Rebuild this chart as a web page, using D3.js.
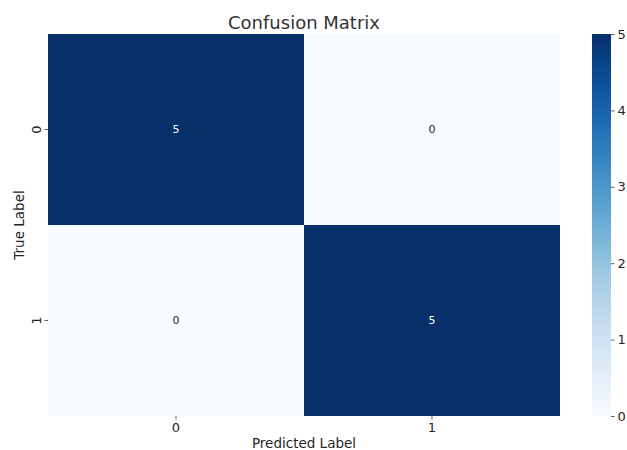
<!DOCTYPE html>
<html>
<head>
<meta charset="utf-8">
<script src="https://cdn.jsdelivr.net/npm/d3@7"></script>
<style>
  html, body { margin: 0; padding: 0; background: #fff; }
  svg { display: block; font-family: "DejaVu Sans", sans-serif; }
</style>
</head>
<body>
<svg id="chart" width="627" height="450"></svg>
<script>
// Confusion matrix counts: rows = true label, columns = predicted label
const trueLabels = ["0", "1"];
const predLabels = ["0", "1"];
const counts = [
  [5, 0],
  [0, 5]
];
const colorTicks = [0, 1, 2, 3, 4, 5];

const svg = d3.select("#chart");
const m = { left: 48, top: 34, right: 560, bottom: 416 };

const x = d3.scaleBand().domain(predLabels).range([m.left, m.right]);
const y = d3.scaleBand().domain(trueLabels).range([m.top, m.bottom]);
const vmax = d3.max(counts.flat());
const color = d3.scaleSequential(d3.interpolateBlues).domain([0, vmax]);

const cells = [];
counts.forEach((row, i) => row.forEach((v, j) => cells.push({ t: trueLabels[i], p: predLabels[j], v })));

svg.append("g").selectAll("rect").data(cells).join("rect")
  .attr("x", d => x(d.p))
  .attr("y", d => y(d.t))
  .attr("width", x.bandwidth())
  .attr("height", y.bandwidth())
  .attr("fill", d => color(d.v));

svg.append("g").selectAll("text").data(cells).join("text")
  .attr("x", d => x(d.p) + x.bandwidth() / 2)
  .attr("y", d => y(d.t) + y.bandwidth() / 2)
  .attr("text-anchor", "middle")
  .attr("dominant-baseline", "central")
  .attr("font-size", 11)
  .attr("fill", d => d.v > vmax / 2 ? "#ffffff" : "#262626")
  .text(d => d.v);

// Axes
const tickFont = 13;
const xAxis = svg.append("g").attr("transform", `translate(0,${m.bottom})`)
  .call(d3.axisBottom(x).tickSize(3.5).tickPadding(3.5));
const yAxis = svg.append("g").attr("transform", `translate(${m.left},0)`)
  .call(d3.axisLeft(y).tickSize(3.5).tickPadding(3.5));
[xAxis, yAxis].forEach(g => {
  g.select(".domain").remove();
  g.selectAll(".tick line").attr("stroke", "#333").attr("stroke-width", 0.8);
  g.selectAll(".tick text").attr("font-size", tickFont).attr("fill", "#262626")
    .attr("font-family", "DejaVu Sans, sans-serif");
});
yAxis.selectAll(".tick text")
  .attr("transform", "rotate(-90)")
  .attr("text-anchor", "middle")
  .attr("x", 0)
  .attr("y", -7)
  .attr("dy", 0)
  .attr("dominant-baseline", "auto");

// Axis titles
svg.append("text")
  .attr("x", (m.left + m.right) / 2).attr("y", 448)
  .attr("text-anchor", "middle").attr("font-size", 13.5).attr("fill", "#262626")
  .text("Predicted Label");
svg.append("text")
  .attr("transform", `translate(24,${(m.top + m.bottom) / 2}) rotate(-90)`)
  .attr("text-anchor", "middle").attr("font-size", 13.5).attr("fill", "#262626")
  .text("True Label");

// Title
svg.append("text")
  .attr("x", (m.left + m.right) / 2).attr("y", 29)
  .attr("text-anchor", "middle").attr("font-size", 18).attr("fill", "#333333")
  .text("Confusion Matrix");

// Colorbar
const cb = { x: 592, w: 19, top: 34, bottom: 416 };
const cbScale = d3.scaleLinear().domain([0, vmax]).range([cb.bottom, cb.top]);
const defs = svg.append("defs");
const grad = defs.append("linearGradient").attr("id", "cbGrad")
  .attr("x1", 0).attr("y1", 1).attr("x2", 0).attr("y2", 0);
d3.range(0, 1.0001, 0.05).forEach(t => {
  grad.append("stop").attr("offset", t).attr("stop-color", d3.interpolateBlues(t));
});
svg.append("rect")
  .attr("x", cb.x).attr("y", cb.top)
  .attr("width", cb.w).attr("height", cb.bottom - cb.top)
  .attr("fill", "url(#cbGrad)");
const cbAxis = svg.append("g").attr("transform", `translate(${cb.x + cb.w},0)`)
  .call(d3.axisRight(cbScale).tickValues(colorTicks).tickFormat(d3.format("d")).tickSize(3.5).tickPadding(3));
cbAxis.select(".domain").remove();
cbAxis.selectAll(".tick line").attr("stroke", "#333").attr("stroke-width", 0.8);
cbAxis.selectAll(".tick text").attr("font-size", tickFont).attr("fill", "#262626")
  .attr("font-family", "DejaVu Sans, sans-serif");
</script>
</body>
</html>
